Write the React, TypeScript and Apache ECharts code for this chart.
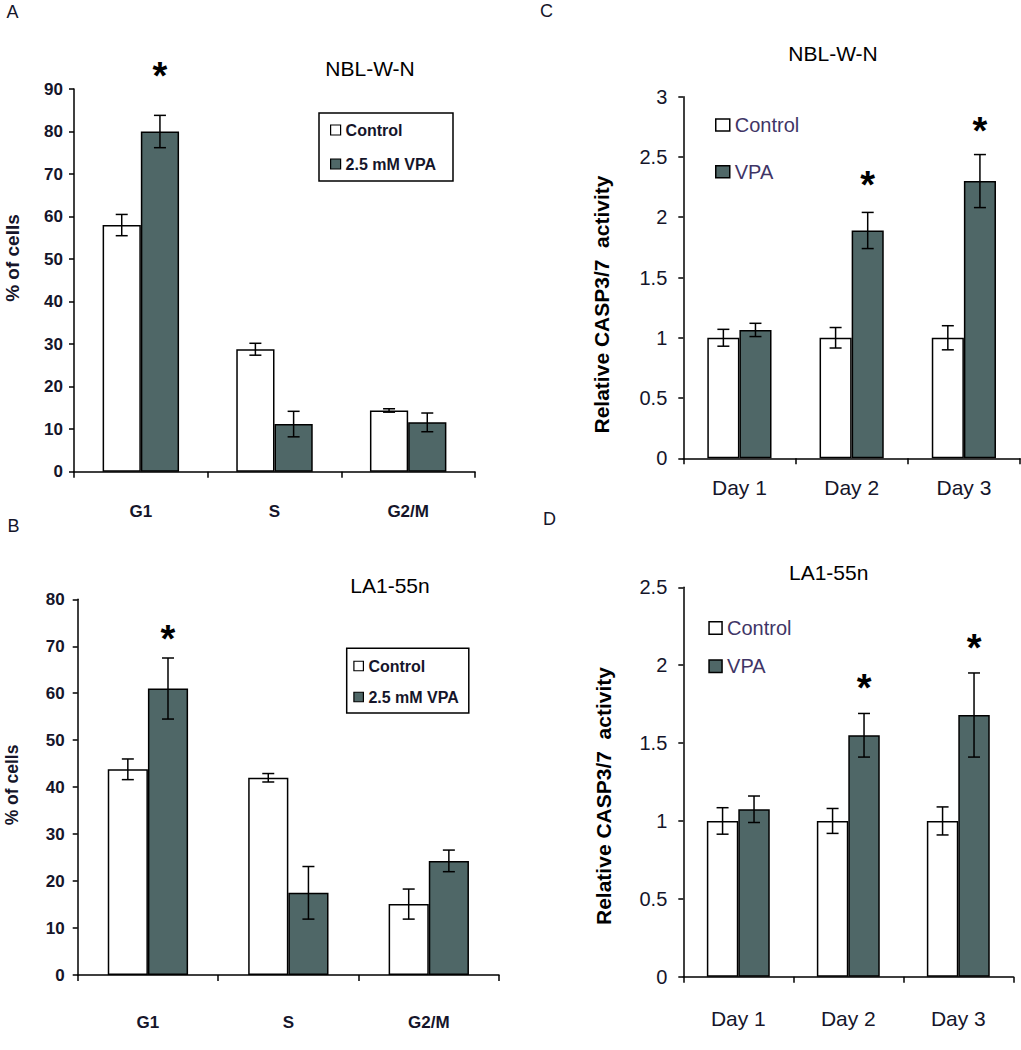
import React, { useEffect, useRef } from "react";
import * as echarts from "echarts";

// ---------- data ----------
const phaseCats = ["G1", "S", "G2/M"];
const dayCats = ["Day 1", "Day 2", "Day 3"];

const aTicks = [0, 10, 20, 30, 40, 50, 60, 70, 80, 90];
const aControl = [58, 28.8, 14.4];
const aControlErr = [2.5, 1.4, 0.4];
const aVpa = [80, 11.2, 11.6];
const aVpaErr = [3.8, 3.0, 2.2];
const aStar = [95.2, null, null];

const bTicks = [0, 10, 20, 30, 40, 50, 60, 70, 80];
const bControl = [43.8, 42.0, 15.1];
const bControlErr = [2.2, 0.9, 3.2];
const bVpa = [61, 17.5, 24.3];
const bVpaErr = [6.5, 5.6, 2.3];
const bStar = [73.5, null, null];

const cTicks = [0, 0.5, 1, 1.5, 2, 2.5, 3];
const cControl = [1, 1, 1];
const cControlErr = [0.07, 0.085, 0.1];
const cVpa = [1.065, 1.89, 2.3];
const cVpaErr = [0.055, 0.15, 0.22];
const cStar = [null, 2.34, 2.79];

const dTicks = [0, 0.5, 1, 1.5, 2, 2.5];
const dControl = [1, 1, 1];
const dControlErr = [0.085, 0.08, 0.09];
const dVpa = [1.075, 1.55, 1.68];
const dVpaErr = [0.085, 0.14, 0.27];
const dStar = [null, 1.911, 2.166];

// ---------- style ----------
const FONT = "'Liberation Sans', Arial, Helvetica, sans-serif";
const TXT = "#15152a";
const VPA_COLOR = "#4f6767";
const BAR_FRAC = 0.286;
const HALF = BAR_FRAC / 2;

type Panel = {
  cats: string[];
  ticks: number[];
  ctrl: number[];
  ctrlErr: number[];
  vpa: number[];
  vpaErr: number[];
  star: (number | null)[];
  vpaName: string;
  grid: { left: number; top: number; width: number; height: number };
  phase: boolean;
  xMargin: number;
  yMargin: number;
};

const panels: Panel[] = [
  {
    cats: phaseCats, ticks: aTicks, ctrl: aControl, ctrlErr: aControlErr, vpa: aVpa, vpaErr: aVpaErr,
    star: aStar, vpaName: "2.5 mM VPA",
    grid: { left: 74, top: 89, width: 401, height: 382.7 }, phase: true, xMargin: 31, yMargin: 11,
  },
  {
    cats: phaseCats, ticks: bTicks, ctrl: bControl, ctrlErr: bControlErr, vpa: bVpa, vpaErr: bVpaErr,
    star: bStar, vpaName: "2.5 mM VPA",
    grid: { left: 77.7, top: 599.3, width: 421.3, height: 375.7 }, phase: true, xMargin: 39, yMargin: 13,
  },
  {
    cats: dayCats, ticks: cTicks, ctrl: cControl, ctrlErr: cControlErr, vpa: cVpa, vpaErr: cVpaErr,
    star: cStar, vpaName: "VPA",
    grid: { left: 683.3, top: 96.7, width: 336.7, height: 361.6 }, phase: false, xMargin: 19, yMargin: 16,
  },
  {
    cats: dayCats, ticks: dTicks, ctrl: dControl, ctrlErr: dControlErr, vpa: dVpa, vpaErr: dVpaErr,
    star: dStar, vpaName: "VPA",
    grid: { left: 683.3, top: 587.3, width: 330, height: 389.4 }, phase: false, xMargin: 31, yMargin: 16,
  },
];

function makeErr(sign: number) {
  return (_params: any, api: any) => {
    const i = api.value(0);
    const v = api.value(1);
    const e = api.value(2);
    const bw = api.size([1, 0])[0];
    const off = sign * bw * HALF;
    const top = api.coord([i, v + e]);
    const bot = api.coord([i, v - e]);
    const x = top[0] + off;
    const cap = 6;
    const style = { stroke: "#000", lineWidth: 1.5 };
    return {
      type: "group",
      children: [
        { type: "line", shape: { x1: x, y1: top[1], x2: x, y2: bot[1] }, style },
        { type: "line", shape: { x1: x - cap, y1: top[1], x2: x + cap, y2: top[1] }, style },
        { type: "line", shape: { x1: x - cap, y1: bot[1], x2: x + cap, y2: bot[1] }, style },
      ],
    };
  };
}

function renderStar(_params: any, api: any) {
  const i = api.value(0);
  const v = api.value(1);
  const bw = api.size([1, 0])[0];
  const p = api.coord([i, v]);
  return {
    type: "text",
    x: p[0] + bw * HALF,
    y: p[1] + 9,
    style: {
      text: "*",
      fontSize: 38,
      fontWeight: "bold",
      fontFamily: FONT,
      fill: "#000",
      align: "center",
      verticalAlign: "middle",
    },
  };
}

function buildOption() {
  const grid: any[] = [];
  const xAxis: any[] = [];
  const yAxis: any[] = [];
  const series: any[] = [];

  panels.forEach((p, idx) => {
    grid.push({ ...p.grid, containLabel: false });
    const tickFont = p.phase
      ? { fontSize: 17, fontWeight: "bold" as const }
      : { fontSize: 20, fontWeight: "normal" as const };
    const xFont = p.phase
      ? { fontSize: 17, fontWeight: "bold" as const }
      : { fontSize: 21, fontWeight: "normal" as const };
    xAxis.push({
      gridIndex: idx,
      type: "category",
      data: p.cats,
      axisLine: { show: true, lineStyle: { color: "#000", width: 1.5 } },
      axisTick: { show: true, length: 6, lineStyle: { color: "#000", width: 1.5 } },
      axisLabel: { margin: p.xMargin, color: TXT, fontFamily: FONT, ...xFont },
      splitLine: { show: false },
    });
    yAxis.push({
      gridIndex: idx,
      type: "value",
      min: p.ticks[0],
      max: p.ticks[p.ticks.length - 1],
      interval: p.ticks[1] - p.ticks[0],
      axisLine: { show: true, lineStyle: { color: "#000", width: 1.5 } },
      axisTick: { show: true, length: 5, lineStyle: { color: "#000", width: 1.5 } },
      axisLabel: { margin: p.yMargin, color: TXT, fontFamily: FONT, ...tickFont },
      splitLine: { show: false },
    });
    series.push({
      type: "bar",
      name: "Control",
      xAxisIndex: idx,
      yAxisIndex: idx,
      data: p.ctrl,
      barWidth: (BAR_FRAC * 100).toFixed(1) + "%",
      barGap: "0%",
      itemStyle: { color: "#ffffff", borderColor: "#000", borderWidth: 1.5 },
      silent: true,
    });
    series.push({
      type: "bar",
      name: p.vpaName,
      xAxisIndex: idx,
      yAxisIndex: idx,
      data: p.vpa,
      barWidth: (BAR_FRAC * 100).toFixed(1) + "%",
      barGap: "0%",
      itemStyle: { color: VPA_COLOR, borderColor: "#000", borderWidth: 1.5 },
      silent: true,
    });
    series.push({
      type: "custom",
      xAxisIndex: idx,
      yAxisIndex: idx,
      data: p.ctrl.map((v, j) => [j, v, p.ctrlErr[j]]),
      encode: { x: 0, y: 1 },
      renderItem: makeErr(-1),
      z: 10,
      silent: true,
    });
    series.push({
      type: "custom",
      xAxisIndex: idx,
      yAxisIndex: idx,
      data: p.vpa.map((v, j) => [j, v, p.vpaErr[j]]),
      encode: { x: 0, y: 1 },
      renderItem: makeErr(1),
      z: 10,
      silent: true,
    });
    series.push({
      type: "custom",
      xAxisIndex: idx,
      yAxisIndex: idx,
      data: p.star.flatMap((v, j) => (v == null ? [] : [[j, v]])),
      encode: { x: 0, y: 1 },
      renderItem: renderStar,
      clip: false,
      z: 10,
      silent: true,
    });
  });

  const ctrlItem = (bw: number) => ({
    name: "Control",
    itemStyle: { color: "#ffffff", borderColor: "#000", borderWidth: bw },
  });
  const vpaItem = (name: string, bw: number) => ({
    name,
    itemStyle: { color: VPA_COLOR, borderColor: "#000", borderWidth: bw },
  });

  const boxLegendText = {
    fontSize: 16,
    fontWeight: "bold",
    color: TXT,
    fontFamily: FONT,
    lineHeight: 16,
  };
  const plainLegendText = {
    fontSize: 20,
    fontWeight: "normal",
    color: "#3f3566",
    fontFamily: FONT,
    lineHeight: 20,
  };

  const legend = [
    {
      orient: "vertical",
      left: 319,
      top: 113,
      padding: [9, 17, 9, 11],
      itemGap: 18,
      itemWidth: 10,
      itemHeight: 10,
      itemTextGap: 3,
      icon: "rect",
      borderColor: "#000",
      borderWidth: 1.5,
      selectedMode: false,
      textStyle: boxLegendText,
      data: [ctrlItem(1.2), vpaItem("2.5 mM VPA", 1.2)],
    },
    {
      orient: "vertical",
      left: 346.7,
      top: 648.3,
      padding: [9.7, 10, 8, 6.6],
      itemGap: 15,
      itemWidth: 9.5,
      itemHeight: 9.5,
      itemTextGap: 4,
      icon: "rect",
      borderColor: "#000",
      borderWidth: 1.5,
      selectedMode: false,
      textStyle: boxLegendText,
      data: [ctrlItem(1.2), vpaItem("2.5 mM VPA", 1.2)],
    },
    {
      orient: "vertical",
      left: 715,
      top: 115,
      padding: 0,
      itemGap: 26.7,
      itemWidth: 14,
      itemHeight: 12,
      itemTextGap: 4,
      icon: "rect",
      selectedMode: false,
      textStyle: plainLegendText,
      data: [ctrlItem(1.5), vpaItem("VPA", 1.5)],
    },
    {
      orient: "vertical",
      left: 708.3,
      top: 618,
      padding: 0,
      itemGap: 18.3,
      itemWidth: 13,
      itemHeight: 12.5,
      itemTextGap: 5,
      icon: "rect",
      selectedMode: false,
      textStyle: plainLegendText,
      data: [ctrlItem(1.5), vpaItem("VPA", 1.5)],
    },
  ];

  const txt = (
    text: string,
    x: number,
    y: number,
    fontSize: number,
    fontWeight: string,
    rotation = 0,
    fill = TXT
  ) => ({
    type: "text",
    x,
    y,
    rotation,
    silent: true,
    style: {
      text,
      fontSize,
      fontWeight,
      fontFamily: FONT,
      fill,
      align: "center",
      verticalAlign: "middle",
    },
  });

  const graphic = [
    txt("A", 12.5, 12, 18, "normal"),
    txt("B", 13.5, 526, 18, "normal"),
    txt("C", 546.5, 10.5, 18, "normal"),
    txt("D", 549.5, 518.5, 18, "normal"),
    txt("NBL-W-N", 370, 68, 21, "normal", 0, "#000"),
    txt("LA1-55n", 390, 585, 21, "normal", 0, "#000"),
    txt("NBL-W-N", 833, 53, 21, "normal", 0, "#000"),
    txt("LA1-55n", 828.7, 572.5, 21, "normal", 0, "#000"),
    txt("% of cells", 12.5, 258, 19, "bold", Math.PI / 2),
    txt("% of cells", 12, 785, 17.5, "bold", Math.PI / 2),
    txt("Relative CASP3/7  activity", 601.7, 304.5, 21, "bold", Math.PI / 2, "#000"),
    txt("Relative CASP3/7  activity", 603, 796, 21, "bold", Math.PI / 2, "#000"),
  ];

  return {
    animation: false,
    backgroundColor: "#ffffff",
    grid,
    xAxis,
    yAxis,
    series,
    legend,
    graphic,
  };
}

export default function App() {
  const ref = useRef<HTMLDivElement>(null);
  useEffect(() => {
    document.body.style.margin = "0";
    if (!ref.current) return;
    const chart = echarts.init(ref.current, undefined, { renderer: "svg" });
    chart.setOption(buildOption() as any);
    return () => {
      chart.dispose();
    };
  }, []);
  return <div ref={ref} style={{ width: 1021, height: 1050 }} />;
}
